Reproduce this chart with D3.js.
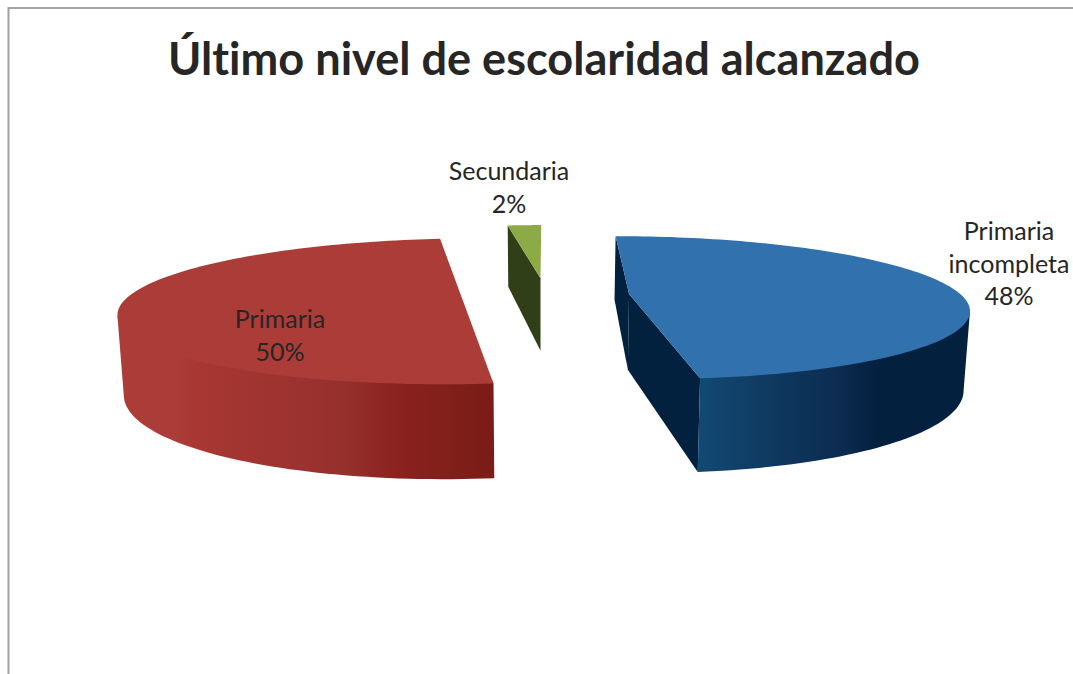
<!DOCTYPE html>
<html><head><meta charset="utf-8">
<script src="https://cdn.jsdelivr.net/npm/d3@7"></script>
<style>html,body{margin:0;padding:0;background:#fff;overflow:hidden}svg{display:block}text{font-family:Lato,sans-serif;fill:#262626;font-variant-ligatures:none}</style>
</head><body><svg id="c" width="1073" height="674"></svg>
<script>
const titleText = "Último nivel de escolaridad alcanzado";
const categories = ["Primaria incompleta", "Primaria", "Secundaria"];
const values = [48, 50, 2];
const labelLines = [["Primaria","incompleta","48%"],["Primaria","50%"],["Secundaria","2%"]];

const svg=d3.select("#c");
const R=332, ry=69.3, k=0.193, explode=84, depth=76, x0=545.5, y0=295, baseShrink=0.985;

// projection of a point on the pie's plane
function project(X,v,bottom){
  const s=1/(1-k*v);
  const f=bottom?baseShrink:1;
  return [x0+X*s*f, y0+ry*v*s+(bottom?depth*s:0)];
}
const pie=d3.pie().value(d=>d).sort(null).startAngle(0).endAngle(2*Math.PI);
const arcs=pie(values);
const line=d3.line();
const defs=svg.append("defs");

const grads=[
 {id:"gB",stops:[[696,"#124a75"],[760,"#0f3b63"],[840,"#0c2b50"],[875,"#03213f"],[970,"#03213f"]]},
 {id:"gR",stops:[[118,"#ac3c37"],[178,"#ac3c37"],[195,"#a83733"],[300,"#9c322f"],[345,"#95302c"],[400,"#8a221f"],[483,"#7b1d16"],[496,"#7a1d16"]]},
 {id:"gG",stops:[[500,"#303f17"],[545,"#303f17"]]}
];
grads.forEach(g=>{
  const lg=defs.append("linearGradient").attr("id",g.id).attr("gradientUnits","userSpaceOnUse")
    .attr("x1",g.stops[0][0]).attr("x2",g.stops[g.stops.length-1][0]).attr("y1",0).attr("y2",0);
  const a=g.stops[0][0],b=g.stops[g.stops.length-1][0];
  g.stops.forEach(s=>lg.append("stop").attr("offset",(s[0]-a)/(b-a)).attr("stop-color",s[1]));
});
const topColors=["#3171ae","#ac3c37","#8cab46"], dark=["#02213e","#7a1d16","#303f17"], wall=["url(#gB)","url(#gR)","url(#gG)"];

svg.append("path").attr("d",line([[8.5,674],[8.5,8],[1073,8]])).attr("fill","none").attr("stroke","#a0a0a5").attr("stroke-width",2);

arcs.forEach((a,i)=>{
  const mid=(a.startAngle+a.endAngle)/2;
  const cX=explode*Math.sin(mid), cV=-explode/R*Math.cos(mid);
  const at=(t,bottom,q=1)=>project(cX+q*R*Math.sin(t), cV-q*Math.cos(t), bottom);
  const apex=b=>project(cX,cV,b);
  const ts=d3.range(0,121).map(j=>a.startAngle+(a.endAngle-a.startAngle)*j/120);
  const g=svg.append("g").attr("class","slice").attr("data-cat",categories[i]);

  // cut faces
  [a.startAngle,a.endAngle].forEach(t=>{
    const show=(i===0)||(i===2&&t===a.startAngle);
    if(show) g.append("path").attr("d",line([apex(false),at(t,false),at(t,true),apex(true)])+"Z").attr("fill",dark[i]);
  });
  // outer wall between silhouette and the front of the slice
  let wt=[];
  if(i===0){const e=d3.greatest(ts,t=>at(t,false)[0]); wt=ts.filter(t=>t>=e);}
  if(i===1){const e=d3.least(ts,t=>at(t,false)[0]); wt=ts.filter(t=>t<=e);}
  if(wt.length){
    const pts=[at(wt[0],false)].concat(wt.map(t=>at(t,false,0.98)),[at(wt[wt.length-1],false)],wt.slice().reverse().map(t=>at(t,true)));
    g.append("path").attr("d",line(pts)+"Z").attr("fill",wall[i]);
  }
  // top face
  g.append("path").attr("d",line([apex(false)].concat(ts.map(t=>at(t,false))))+"Z").attr("fill",topColors[i]);
});

svg.append("text").attr("x",544).attr("y",75).attr("text-anchor","middle").attr("font-size",45).attr("font-weight",700)
  .attr("textLength",752).attr("lengthAdjust","spacingAndGlyphs").text(titleText);

const labelPos=[[1009,240],[280,328],[509,180]];
labelLines.forEach((ls,i)=>{
  ls.forEach((t,j)=>svg.append("text").attr("x",labelPos[i][0]).attr("y",labelPos[i][1]+j*32.5)
    .attr("text-anchor","middle").attr("font-size",25).text(t));
});
</script></body></html>
